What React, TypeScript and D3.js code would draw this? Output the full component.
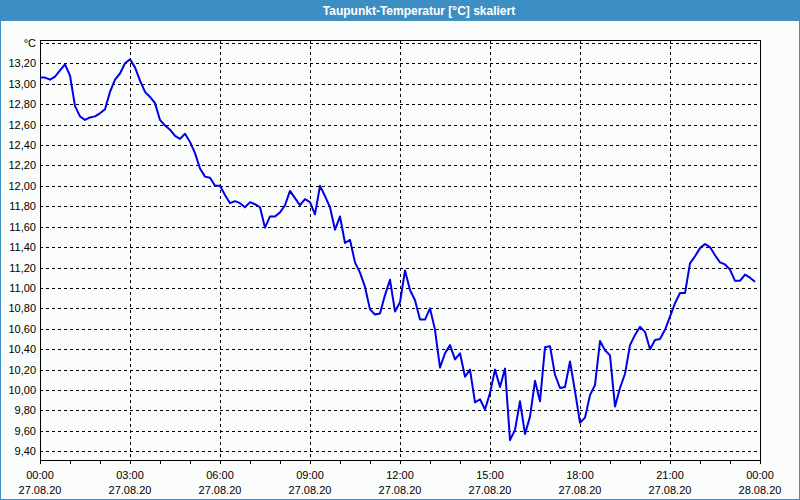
import React from "react";
import * as d3 from "d3";

const title = "Taupunkt-Temperatur [°C] skaliert";
const unitLabel = "°C";
// 10-minute samples starting 27.08.20 00:00
const startTime = new Date(2020, 7, 27, 0, 0);
const stepMinutes = 10;
const values = [
  13.06, 13.06, 13.04, 13.07, 13.13, 13.19, 13.08, 12.78, 12.68, 12.645,
  12.67, 12.68, 12.71, 12.75, 12.92, 13.04, 13.1, 13.2, 13.24, 13.16,
  13.03, 12.92, 12.87, 12.81, 12.645, 12.59, 12.55, 12.49, 12.46, 12.51,
  12.43, 12.32, 12.17, 12.09, 12.08, 12.0, 12.0, 11.91, 11.83, 11.85,
  11.83, 11.79, 11.84, 11.82, 11.79, 11.59, 11.7, 11.7, 11.74, 11.81,
  11.95, 11.88, 11.81, 11.87, 11.84, 11.72, 12.0, 11.9, 11.79, 11.57,
  11.7, 11.44, 11.47, 11.25, 11.15, 11.01, 10.79, 10.74, 10.75, 10.93,
  11.08, 10.77, 10.86, 11.17, 10.98, 10.88, 10.69, 10.69, 10.8, 10.59,
  10.22, 10.36, 10.44, 10.3, 10.36, 10.13, 10.2, 9.88, 9.91, 9.81,
  9.97, 10.2, 10.03, 10.21, 9.51, 9.61, 9.89, 9.57, 9.74, 10.09,
  9.89, 10.42, 10.43, 10.15, 10.02, 10.03, 10.28, 9.99, 9.68, 9.73,
  9.95, 10.05, 10.48, 10.39, 10.34, 9.84, 10.02, 10.16, 10.44, 10.54,
  10.62, 10.57, 10.4, 10.49, 10.5, 10.59, 10.72, 10.85, 10.95, 10.95,
  11.24, 11.31, 11.39, 11.43, 11.4, 11.32, 11.25, 11.23, 11.18, 11.07,
  11.07, 11.13, 11.1, 11.06,
];
const yTicks = [
  9.4, 9.6, 9.8, 10.0, 10.2, 10.4, 10.6, 10.8, 11.0, 11.2, 11.4, 11.6,
  11.8, 12.0, 12.2, 12.4, 12.6, 12.8, 13.0, 13.2,
];
const yGridTop = 13.4;
const yDomain = [9.315, 13.428];
const xStart = new Date(2020, 7, 27, 0, 0);
const xEnd = new Date(2020, 7, 28, 0, 0);

const W = 800;
const H = 500;
const plot = { left: 40, right: 760, top: 40, bottom: 460 };

export default function App() {
  const x = d3.scaleTime().domain([xStart, xEnd]).range([plot.left, plot.right]);
  const y = d3.scaleLinear().domain(yDomain).range([plot.bottom, plot.top]);
  const data = values.map((v, i) => ({
    t: new Date(startTime.getTime() + i * stepMinutes * 60000),
    v,
  }));
  const line = d3
    .line<{ t: Date; v: number }>()
    .x((d) => x(d.t))
    .y((d) => y(d.v));
  const hourTicks = d3.timeHour.every(1)!.range(xStart, new Date(xEnd.getTime() + 1));
  const majorTicks = d3.timeHour.every(3)!.range(xStart, new Date(xEnd.getTime() + 1));
  const fmtTime = d3.timeFormat("%H:%M");
  const fmtDate = d3.timeFormat("%d.%m.%y");
  const fmtY = (v: number) => v.toFixed(2).replace(".", ",");
  const font = "'Liberation Sans', Arial, sans-serif";

  return (
    <svg
      width={W}
      height={H}
      style={{ position: "fixed", left: 0, top: 0, display: "block" }}
      fontFamily={font}
    >
      <rect x={0} y={0} width={W} height={H} fill="#fbfdfc" />
      <rect x={0} y={0} width={W} height={21} fill="#3d8fc3" />
      <rect x={0.5} y={20.5} width={W - 1} height={H - 21} fill="none" stroke="#3d8fc3" strokeWidth={1} />
      <text x={419} y={15} fill="#ffffff" fontSize={12} fontWeight="bold" textAnchor="middle">
        {title}
      </text>

      {/* horizontal grid */}
      {[...yTicks, yGridTop].map((v) => (
        <line
          key={"h" + v}
          x1={plot.left}
          x2={plot.right}
          y1={Math.round(y(v)) + 0.5}
          y2={Math.round(y(v)) + 0.5}
          stroke="#000"
          strokeWidth={1}
          strokeDasharray="3,3"
        />
      ))}
      {/* vertical grid */}
      {majorTicks
        .filter((t) => t > xStart && t < xEnd)
        .map((t) => (
          <line
            key={"v" + t.getTime()}
            x1={Math.round(x(t)) + 0.5}
            x2={Math.round(x(t)) + 0.5}
            y1={plot.top}
            y2={plot.bottom}
            stroke="#000"
            strokeWidth={1}
            strokeDasharray="3,3"
          />
        ))}

      {/* frame */}
      <rect
        x={plot.left + 0.5}
        y={plot.top + 0.5}
        width={plot.right - plot.left}
        height={plot.bottom - plot.top}
        fill="none"
        stroke="#000"
        strokeWidth={1}
      />

      {/* x ticks */}
      {hourTicks.map((t) => (
        <line
          key={"t" + t.getTime()}
          x1={Math.round(x(t)) + 0.5}
          x2={Math.round(x(t)) + 0.5}
          y1={plot.bottom}
          y2={plot.bottom + 4}
          stroke="#000"
          strokeWidth={1}
        />
      ))}
      {majorTicks.map((t) => (
        <g key={"l" + t.getTime()} fontSize={11} fill="#000" textAnchor="middle">
          <text x={x(t)} y={479}>{fmtTime(t)}</text>
          <text x={x(t)} y={494}>{fmtDate(t)}</text>
        </g>
      ))}

      {/* y labels */}
      {yTicks.map((v) => (
        <text key={"y" + v} x={36} y={y(v) + 4} fontSize={11} textAnchor="end" fill="#000">
          {fmtY(v)}
        </text>
      ))}
      <text x={36} y={y(yGridTop) + 4} fontSize={11} textAnchor="end" fill="#000">
        {unitLabel}
      </text>

      <path d={line(data) || ""} fill="none" stroke="#0000e6" strokeWidth={2} strokeLinejoin="round" />
    </svg>
  );
}
